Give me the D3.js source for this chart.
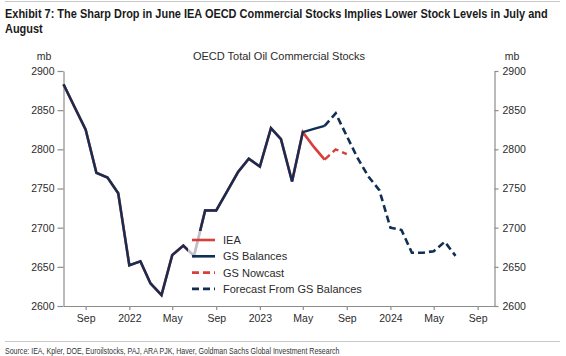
<!DOCTYPE html>
<html><head><meta charset="utf-8">
<script src="https://cdn.jsdelivr.net/npm/d3@7"></script>
<style>
body{margin:0;background:#fff;}
svg{display:block;}
</style></head>
<body>
<svg id="c" width="566" height="356"></svg>
<script>
// ---- data ----
const histMonths = ["2021-07","2021-08","2021-09","2021-10","2021-11","2021-12","2022-01","2022-02","2022-03","2022-04","2022-05","2022-06","2022-07","2022-08","2022-09","2022-10","2022-11","2022-12","2023-01","2023-02","2023-03","2023-04","2023-05"];
const histValues = [2883,2854,2825,2770,2764,2744,2652,2657,2629,2614,2665,2677,2664,2722,2722,2746,2771,2788,2778,2827,2813,2759,2822];
const ieaTailMonths = ["2023-06","2023-07"];
const ieaTailValues = [2803,2787];
const gsTailMonths = ["2023-06","2023-07"];
const gsTailValues = [2826,2830];
const nowcastMonths = ["2023-07","2023-08","2023-09"];
const nowcastValues = [2787,2800,2794];
const forecastMonths = ["2023-07","2023-08","2023-09","2023-10","2023-11","2023-12","2024-01","2024-02","2024-03","2024-04","2024-05","2024-06","2024-07"];
const forecastValues = [2830,2846,2817,2789,2765,2748,2700,2697,2668,2668,2670,2682,2664];
const xTickDates = ["2021-09","2022-01","2022-05","2022-09","2023-01","2023-05","2023-09","2024-01","2024-05","2024-09"];
const xTickLabels = ["Sep","2022","May","Sep","2023","May","Sep","2024","May","Sep"];
const yTicks = [2600,2650,2700,2750,2800,2850,2900];
const legendLabels = ["IEA","GS Balances","GS Nowcast","Forecast From GS Balances"];

const titleLines = ["Exhibit 7: The Sharp Drop in June IEA OECD Commercial Stocks Implies Lower Stock Levels in July and","August"];
const chartTitle = "OECD Total Oil Commercial Stocks";
const sourceText = "Source: IEA, Kpler, DOE, Euroilstocks, PAJ, ARA PJK, Haver, Goldman Sachs Global Investment Research";

const parse = s => { const [y,m] = s.split("-").map(Number); return new Date(Date.UTC(y, m-1, 1)); };
const pts = (ms, vs) => ms.map((m,i)=>({d:parse(m), v:vs[i]}));

const RED = "#d6403a", NAVY = "#112f55", AX = "#8c8c8c", TXT = "#2b2b2b";
const L = 63.5, R = 494.5, T = 71, B = 306;

const svg = d3.select("#c");
const x = d3.scaleUtc().domain([new Date(Date.UTC(2021,6,1)), new Date(Date.UTC(2024,9,18))]).range([L, R]);
const y = d3.scaleLinear().domain([2600,2900]).range([B, T]);

// top rule
svg.append("line").attr("x1",5).attr("x2",560).attr("y1",1.5).attr("y2",1.5).attr("stroke","#c8c8c8").attr("stroke-width",1);

// title (condensed horizontally to mimic a narrow face)
const tg = svg.append("g");
const tt = tg.append("text").attr("font-family","'Liberation Sans',Arial,sans-serif").attr("font-weight","bold").attr("font-size",12.5).attr("fill","#1a1a1a");
titleLines.forEach((t,i)=> tt.append("tspan").attr("x",0).attr("y",18 + i*15.5).text(t));
const w1 = tt.select("tspan").node().getComputedTextLength();
tg.attr("transform",`translate(5,0) scale(${543/w1},1)`);

// chart title and units
const f11 = "'Liberation Sans',Arial,sans-serif";
svg.append("text").attr("x",279).attr("y",60).attr("text-anchor","middle").attr("font-family",f11).attr("font-size",11).attr("fill",TXT).text(chartTitle);
svg.append("text").attr("x",44).attr("y",60).attr("text-anchor","middle").attr("font-family",f11).attr("font-size",10.5).attr("fill",TXT).text("mb");
svg.append("text").attr("x",512).attr("y",60).attr("text-anchor","middle").attr("font-family",f11).attr("font-size",10.5).attr("fill",TXT).text("mb");

// axes
function styleAxis(g){
  g.selectAll("path.domain").attr("stroke",AX).attr("stroke-width",1.2);
  g.selectAll(".tick line").attr("stroke",AX).attr("stroke-width",1.2);
  g.selectAll("text").attr("fill",TXT).attr("font-family",f11).attr("font-size",10.5);
}
const gl = svg.append("g").attr("transform",`translate(${L},0)`)
  .call(d3.axisLeft(y).tickValues(yTicks).tickSize(6).tickSizeOuter(0).tickPadding(3).tickFormat(d3.format("d")));
styleAxis(gl);
const gr = svg.append("g").attr("transform",`translate(${R},0)`)
  .call(d3.axisRight(y).tickValues(yTicks).tickSize(4).tickSizeOuter(0).tickPadding(4).tickFormat(d3.format("d")));
styleAxis(gr);
const gb = svg.append("g").attr("transform",`translate(0,${B})`)
  .call(d3.axisBottom(x).tickValues(xTickDates.map(parse)).tickSize(4).tickSizeOuter(0).tickPadding(5)
    .tickFormat((d,i)=>xTickLabels[i]));
styleAxis(gb);

// lines
const line = d3.line().x(d=>x(d.d)).y(d=>y(d.v));
const hist = pts(histMonths, histValues);
const iea = hist.concat(pts(ieaTailMonths, ieaTailValues));
const gs = hist.concat(pts(gsTailMonths, gsTailValues));
svg.append("path").datum(iea).attr("d",line).attr("fill","none").attr("stroke",RED).attr("stroke-width",2.7).attr("stroke-linejoin","miter");
svg.append("path").datum(gs).attr("d",line).attr("fill","none").attr("stroke",NAVY).attr("stroke-width",2.4).attr("stroke-linejoin","miter");
svg.append("path").datum(pts(nowcastMonths,nowcastValues)).attr("d",line).attr("fill","none").attr("stroke",RED).attr("stroke-width",2.4).attr("stroke-dasharray","7,4");
svg.append("path").datum(pts(forecastMonths,forecastValues)).attr("d",line).attr("fill","none").attr("stroke",NAVY).attr("stroke-width",2.6).attr("stroke-dasharray","7,4");

// legend
const lg = svg.append("g");
lg.append("rect").attr("x",188).attr("y",231).attr("width",182).attr("height",67).attr("fill","#fff").attr("fill-opacity",0.7);
const styles = [{c:RED,dash:null},{c:NAVY,dash:null},{c:RED,dash:"7,4"},{c:NAVY,dash:"7,4"}];
legendLabels.forEach((lab,i)=>{
  const yy = 240 + i*16.3;
  lg.append("line").attr("x1",192).attr("x2",215).attr("y1",yy).attr("y2",yy).attr("stroke",styles[i].c).attr("stroke-width",2.6).attr("stroke-dasharray",styles[i].dash);
  lg.append("text").attr("x",223).attr("y",yy+4).attr("font-family",f11).attr("font-size",11).attr("fill",TXT).text(lab);
});

// source
svg.append("line").attr("x1",5).attr("x2",560).attr("y1",341.5).attr("y2",341.5).attr("stroke","#c8c8c8").attr("stroke-width",1);
const sg = svg.append("g");
const st = sg.append("text").attr("x",0).attr("y",354).attr("font-family",f11).attr("font-size",8.5).attr("fill","#333").text(sourceText);
const sw = st.node().getComputedTextLength();
sg.attr("transform",`translate(5,0) scale(${335/sw},1)`);
</script>
</body></html>
